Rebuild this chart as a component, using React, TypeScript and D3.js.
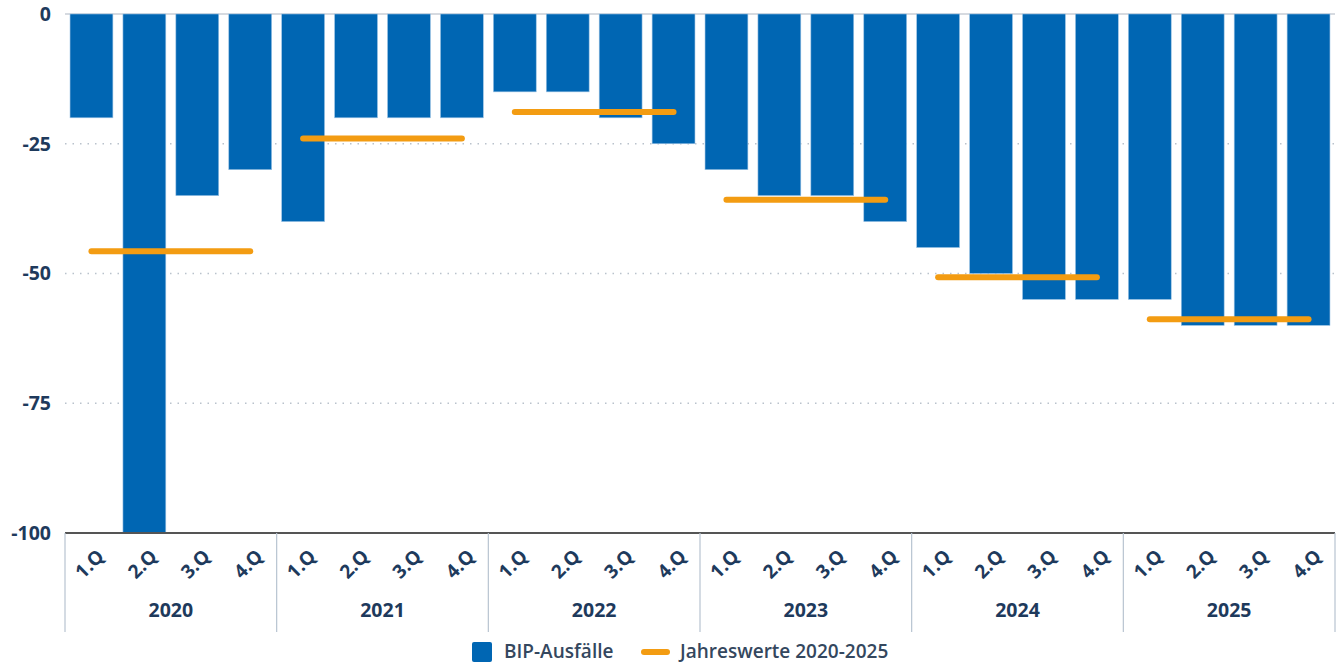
import React from "react";
import * as d3 from "d3";

const years = ["2020", "2021", "2022", "2023", "2024", "2025"];
const quarters = ["1.Q", "2.Q", "3.Q", "4.Q"];
const bipValues = [
  -20, -100, -35, -30,
  -40, -20, -20, -20,
  -15, -15, -20, -25,
  -30, -35, -35, -40,
  -45, -50, -55, -55,
  -55, -60, -60, -60,
];
const annualValues = [-45.7, -24, -18.9, -35.8, -50.7, -58.8];
const yTicks = [0, -25, -50, -75, -100];

const W = 1338;
const H = 664;
const left = 65;
const right = 1335;
const top = 14;
const bottom = 533;
const BLUE = "#0066b3";
const ORANGE = "#f39c12";
const TEXT = "#1e3a5c";
const LEGEND_TEXT = "#34475e";
const FONT = "'Open Sans', 'Noto Sans', sans-serif";

export default function App() {
  const cats = years.flatMap((y) => quarters.map((q) => `${y}-${q}`));
  const x = d3.scaleBand<string>().domain(cats).range([left, right]).paddingInner(0.19).paddingOuter(0.095);
  const y = d3.scaleLinear().domain([-100, 0]).range([bottom, top]);
  const step = x.step();
  const groupW = step * 4;

  return (
    <svg width={W} height={H} style={{ position: "absolute", left: 0, top: 0, fontFamily: FONT }}>
      {yTicks.map((t) => (
        <g key={t}>
          {t !== -100 && (
            <line
              x1={left}
              x2={right}
              y1={y(t)}
              y2={y(t)}
              stroke={t === 0 ? "#c8ced6" : "#b9c2cc"}
              strokeWidth={1.5}
              strokeDasharray={t === 0 ? undefined : "1.5,6"}
            />
          )}
          <text x={51} y={y(t)} dy="0.35em" textAnchor="end" fontSize={19.5} fontWeight={700} fill={TEXT}>
            {t}
          </text>
        </g>
      ))}
      {cats.map((c, i) => (
        <rect
          key={c}
          x={x(c)}
          y={y(0)}
          width={x.bandwidth()}
          height={y(bipValues[i]) - y(0)}
          fill={BLUE}
          stroke="#9cc3e4"
          strokeWidth={0.6}
        />
      ))}
      <line x1={left} x2={right} y1={bottom} y2={bottom} stroke="#555" strokeWidth={2} />
      {years.map((yr, gi) => {
        const x0 = left + gi * groupW;
        const c1 = `${yr}-${quarters[0]}`;
        const c4 = `${yr}-${quarters[3]}`;
        const xa = (x(c1) as number) + x.bandwidth() / 2;
        const xb = (x(c4) as number) + x.bandwidth() / 2;
        return (
          <g key={yr}>
            <line x1={x0} x2={x0} y1={bottom} y2={632} stroke="#b7c3d0" strokeWidth={1.2} />
            {quarters.map((q) => {
              const cx = (x(`${yr}-${q}`) as number) + x.bandwidth() / 2 - 2;
              const cy = 564;
              return (
                <text
                  key={q}
                  x={cx}
                  y={cy}
                  dy="0.35em"
                  textAnchor="middle"
                  fontSize={19}
                  fontWeight={700}
                  fill={TEXT}
                  transform={`rotate(-45 ${cx} ${cy})`}
                >
                  {q}
                </text>
              );
            })}
            <text x={x0 + groupW / 2} y={610} dy="0.35em" textAnchor="middle" fontSize={19.5} fontWeight={700} fill={TEXT}>
              {yr}
            </text>
            <line
              x1={xa}
              x2={xb}
              y1={y(annualValues[gi])}
              y2={y(annualValues[gi])}
              stroke={ORANGE}
              strokeWidth={6}
              strokeLinecap="round"
            />
          </g>
        );
      })}
      <line x1={right} x2={right} y1={bottom} y2={632} stroke="#b7c3d0" strokeWidth={1.2} />
      <g>
        <rect x={472} y={642} width={20} height={20} rx={2} fill={BLUE} />
        <text x={504} y={651} dy="0.35em" fontSize={19} fontWeight={600} fill={LEGEND_TEXT}>
          BIP-Ausfälle
        </text>
        <line x1={644} x2={667} y1={652} y2={652} stroke={ORANGE} strokeWidth={6} strokeLinecap="round" />
        <text x={680} y={651} dy="0.35em" fontSize={19} fontWeight={600} fill={LEGEND_TEXT}>
          Jahreswerte 2020-2025
        </text>
      </g>
    </svg>
  );
}
